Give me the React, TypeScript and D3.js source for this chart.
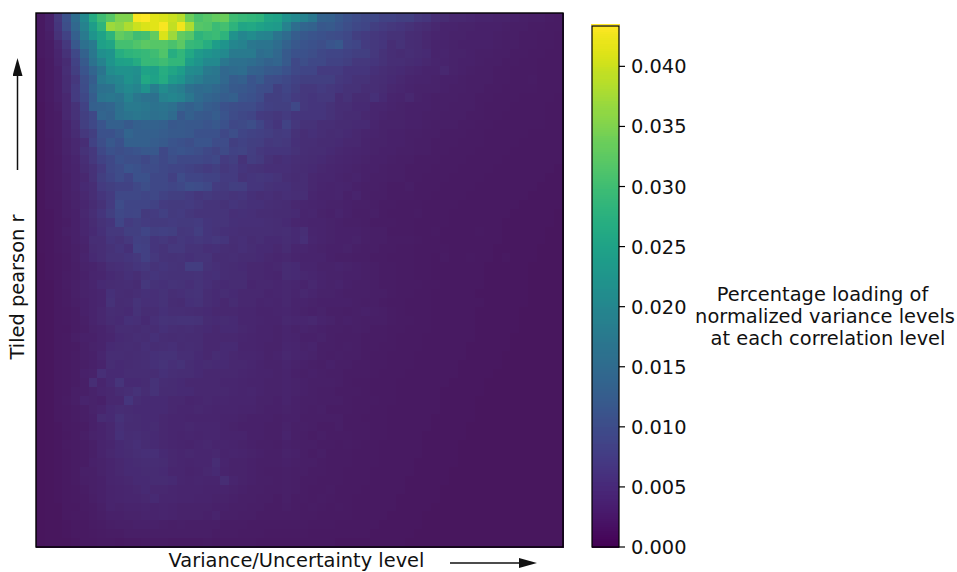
import React from "react";
import * as d3 from "d3";

// Estimated values, in units of 0.0001. One row per correlation level (top to bottom), 60 variance bins.
const heatRows: number[][] = [
[15,25,60,100,150,205,265,300,320,350,350,430,435,415,410,400,385,335,310,320,330,335,300,290,285,280,255,250,220,205,190,170,130,125,110,100,90,85,85,75,75,70,70,60,55,45,40,35,35,33,30,30,28,28,26,24,22,22,20,18],
[15,25,55,95,140,190,240,280,370,360,380,400,410,415,430,395,425,380,320,315,295,305,280,255,260,250,240,235,190,150,135,130,110,115,105,95,85,80,70,65,60,55,50,45,40,35,30,30,28,28,25,25,25,24,22,22,20,20,18,18],
[14,22,50,75,125,175,225,250,280,330,320,300,305,330,410,370,330,320,280,290,295,280,220,200,210,195,190,165,145,120,110,105,100,95,90,85,70,65,60,55,50,50,42,40,35,32,30,28,28,26,25,25,24,22,22,20,20,18,18,17],
[14,20,35,60,110,155,175,245,255,305,305,315,325,320,320,310,325,290,285,270,240,225,200,190,170,165,165,150,130,110,105,100,95,105,110,85,80,65,60,55,45,50,42,40,35,30,30,28,26,25,25,25,24,22,22,20,20,18,18,17],
[14,20,32,50,85,130,170,215,225,270,280,285,290,300,315,270,285,260,235,225,215,205,175,175,175,150,155,140,115,100,100,95,85,80,80,75,70,70,60,50,45,40,45,40,38,30,32,28,28,26,24,24,22,22,20,20,18,18,17,17],
[13,18,30,40,75,115,160,190,225,245,250,265,290,290,300,285,285,240,225,205,205,170,155,155,150,140,130,135,115,85,95,85,85,75,75,70,60,60,55,50,45,45,40,38,35,32,30,28,26,26,24,22,22,20,20,18,18,17,17,16],
[13,18,25,45,70,105,135,165,210,220,220,215,250,245,270,255,240,210,205,175,170,140,145,150,130,125,115,110,100,85,80,80,65,65,65,55,55,55,48,44,40,38,36,34,30,30,35,28,26,24,22,22,20,20,18,18,18,17,16,16],
[13,18,25,40,60,95,120,175,190,200,220,210,260,250,265,235,225,195,180,165,165,140,120,125,105,115,95,90,85,75,70,70,70,70,60,55,50,50,45,42,38,35,32,30,30,28,26,26,24,22,22,22,20,20,18,18,20,17,16,16],
[13,18,25,40,65,90,130,155,160,190,205,195,220,180,210,190,180,155,145,150,140,130,115,110,105,95,90,70,80,70,60,60,65,60,55,50,50,45,45,40,36,34,30,28,28,28,26,24,24,22,22,20,20,18,18,18,18,17,16,16],
[13,18,25,35,65,85,120,165,170,165,190,170,160,155,190,200,190,170,145,135,130,120,125,105,100,90,70,70,75,65,60,55,60,60,45,50,40,40,48,38,32,30,35,28,26,24,24,24,22,22,20,20,18,18,18,17,17,16,16,15],
[12,16,22,35,50,75,125,130,135,155,175,175,170,160,165,155,135,125,135,120,115,100,95,90,90,80,72,70,70,85,60,55,55,50,45,45,38,38,34,34,30,28,26,26,26,24,24,22,22,22,20,18,18,18,17,17,16,16,15,15],
[12,16,20,35,50,70,85,135,130,155,165,170,165,155,160,145,110,125,115,110,120,105,90,85,80,65,62,58,65,55,55,55,55,50,45,40,40,36,34,30,28,28,26,26,24,24,22,22,22,20,20,18,18,17,17,16,16,16,15,15],
[12,16,20,30,45,70,85,105,125,125,115,125,130,130,125,110,115,110,110,105,110,100,85,88,95,80,65,55,75,58,50,50,45,45,40,40,38,38,32,28,28,28,26,26,24,22,22,22,20,20,18,18,17,17,16,16,16,16,15,15],
[12,16,20,30,40,60,70,100,100,110,135,125,125,125,120,115,115,110,100,100,100,85,95,80,75,72,68,62,65,50,45,48,45,40,42,38,36,32,30,28,26,26,24,24,22,22,20,20,20,18,18,17,17,16,16,16,15,15,15,14],
[12,15,20,28,35,45,75,95,110,100,125,125,125,120,115,105,100,95,105,105,90,90,70,75,70,68,60,62,60,48,45,45,40,40,38,36,36,30,28,28,26,26,24,22,22,20,20,20,18,18,18,17,16,16,16,15,15,15,14,14],
[12,15,20,28,35,50,60,85,100,95,100,105,110,110,85,100,105,100,95,85,78,88,75,78,68,60,55,55,56,50,45,42,42,38,36,34,32,30,28,26,26,24,24,22,22,20,20,18,18,18,17,17,16,16,15,15,15,15,14,14],
[11,15,18,26,32,45,60,75,85,100,95,95,85,95,85,95,85,85,85,80,85,65,70,52,66,62,50,44,48,45,42,40,38,36,34,32,30,28,26,26,24,22,22,20,20,20,18,18,18,17,17,16,16,15,15,15,15,14,14,14],
[11,15,18,25,30,40,50,65,85,90,105,100,90,90,85,80,80,75,70,65,70,60,65,55,52,50,46,46,46,42,40,38,36,34,32,30,28,26,26,24,22,22,20,20,20,18,18,18,17,17,16,16,15,15,15,14,14,14,14,13],
[11,14,18,24,30,35,50,70,80,90,80,100,100,85,85,72,90,80,80,75,75,65,65,52,55,58,56,52,44,40,42,36,34,34,30,28,30,26,24,24,22,22,20,20,18,18,18,17,17,16,16,15,15,15,14,14,14,14,13,13],
[11,14,18,24,30,38,45,65,70,75,75,85,95,85,85,80,85,95,90,85,65,62,70,68,56,55,50,48,48,42,42,36,32,30,32,30,26,24,24,22,20,20,22,18,18,18,17,16,16,16,15,15,15,14,14,14,14,13,13,13],
[11,14,17,24,28,35,45,55,65,85,85,85,80,85,75,70,70,65,58,62,58,58,54,56,48,44,46,42,46,44,44,34,30,30,32,26,30,24,22,22,20,20,20,18,18,17,17,16,16,15,15,15,14,14,14,14,13,13,13,13],
[11,14,17,22,28,34,40,50,65,90,80,80,80,75,65,62,62,65,60,54,54,50,56,52,48,48,44,42,40,36,34,32,30,28,28,26,24,24,22,20,20,18,18,18,17,17,16,16,15,15,15,14,14,14,14,13,13,13,13,13],
[11,13,16,22,26,35,45,55,70,85,80,82,62,65,72,62,65,58,54,54,54,54,46,48,46,42,42,40,40,38,32,34,28,26,30,26,22,22,24,20,18,18,18,20,16,16,16,15,15,14,14,14,14,14,13,13,13,13,13,12],
[11,13,16,20,26,34,40,50,55,80,65,70,65,62,62,65,62,62,65,56,54,54,48,46,46,46,44,42,38,34,32,30,30,28,26,24,24,22,20,20,20,18,18,17,17,16,16,15,15,15,14,14,14,13,13,13,13,13,13,12],
[11,13,16,22,26,34,38,48,60,60,70,70,80,70,72,70,58,60,68,56,52,48,46,44,44,44,44,42,44,38,44,32,30,28,26,26,26,24,22,22,18,18,18,16,16,18,15,15,14,14,16,14,14,13,13,13,13,13,12,12],
[11,13,16,20,26,30,45,44,55,52,60,72,70,56,60,54,60,56,60,56,60,55,44,46,40,44,38,38,42,38,46,34,30,28,26,26,28,24,22,22,20,20,20,18,16,16,15,15,15,14,14,14,14,13,13,13,13,13,12,12],
[11,13,16,20,24,28,40,45,50,55,48,75,72,56,52,60,60,52,52,46,48,44,42,46,42,38,38,36,40,34,34,30,28,26,26,28,24,22,22,20,20,18,18,17,16,16,16,15,14,14,14,14,13,13,13,13,13,12,12,12],
[10,13,15,18,24,30,38,45,52,52,55,60,72,60,52,50,52,48,52,52,42,42,44,40,40,38,36,34,36,32,30,30,30,26,24,24,22,22,20,20,18,18,18,17,16,15,18,15,14,16,14,14,13,14,13,13,13,12,12,12],
[10,13,15,18,22,28,30,35,45,46,50,55,60,52,56,52,50,66,66,50,46,42,40,38,36,36,34,36,40,38,32,32,28,28,30,28,26,24,22,20,20,18,18,16,16,15,15,15,14,14,14,13,13,13,13,13,12,12,12,12],
[10,13,15,20,22,26,32,34,38,42,48,44,52,55,52,50,50,50,52,46,48,42,40,40,36,36,34,32,40,38,36,34,30,28,28,26,26,24,22,20,20,18,18,17,16,15,15,14,14,14,14,13,13,13,13,13,12,12,12,12],
[10,12,15,20,24,28,32,38,40,42,44,40,58,50,48,52,50,46,52,46,40,38,40,40,34,36,36,34,36,34,30,36,30,28,30,26,24,24,22,20,20,18,18,18,16,16,15,15,14,14,14,13,13,13,13,13,12,12,12,12],
[10,12,15,18,24,28,30,34,48,42,40,44,48,46,50,44,46,50,52,42,38,42,38,36,36,36,32,34,36,32,36,32,28,28,26,24,24,24,22,22,20,18,18,16,16,15,15,14,14,14,13,13,13,13,13,13,12,12,12,12],
[10,12,14,18,22,26,30,34,50,40,42,52,46,46,50,42,40,48,50,42,38,36,40,36,36,32,34,32,36,30,30,28,26,26,26,26,24,22,22,20,18,18,17,16,16,15,15,15,14,14,14,13,13,13,13,13,12,12,12,12],
[10,12,14,16,20,26,30,36,42,40,38,50,42,42,48,44,44,42,40,38,36,36,36,34,34,30,30,32,34,30,28,26,28,24,24,22,24,26,24,22,20,18,17,16,16,15,15,14,14,14,13,13,13,13,13,12,12,12,12,12],
[10,12,14,16,20,24,30,36,40,38,48,46,38,46,52,50,52,52,50,40,38,40,38,34,34,32,30,30,36,34,34,36,30,28,24,26,24,22,22,22,20,18,18,16,16,15,15,14,14,14,13,13,13,13,13,12,12,12,12,12],
[10,12,14,15,20,22,28,30,36,42,42,40,44,42,48,44,42,44,40,38,36,38,38,36,34,30,30,28,32,28,30,28,26,24,24,22,24,22,20,20,18,18,16,16,16,15,15,14,14,14,13,13,13,13,13,12,12,12,12,12],
[10,12,14,16,22,26,26,30,34,38,40,44,42,48,42,40,42,40,40,36,36,36,36,34,32,30,30,28,32,30,26,26,28,24,22,22,22,20,20,20,18,17,16,16,15,15,15,14,14,14,13,13,13,13,12,12,12,12,12,12],
[10,12,14,16,18,24,28,30,38,40,42,40,46,42,44,46,40,42,40,36,36,38,38,32,32,30,28,28,34,32,28,30,24,24,22,24,22,20,20,18,18,16,16,16,15,15,14,14,14,13,13,13,13,13,12,12,12,12,12,12],
[10,12,14,16,20,24,26,34,42,42,40,42,44,48,50,50,44,44,38,36,40,38,36,34,34,32,28,30,36,32,30,28,24,22,24,22,22,20,18,18,17,16,16,15,15,15,14,14,14,13,13,13,13,12,12,12,12,12,12,12],
[10,12,14,16,20,22,26,30,42,38,40,42,44,48,52,46,50,42,38,40,38,38,36,36,34,30,28,28,32,28,26,24,22,26,22,22,20,20,18,18,16,16,16,15,15,14,14,14,13,13,13,13,13,12,12,12,12,12,12,12],
[10,12,14,16,20,26,28,46,38,38,42,42,42,42,48,44,42,42,38,36,36,36,36,34,32,30,30,28,30,26,24,26,24,22,22,20,20,20,18,17,16,16,15,15,15,14,14,14,13,13,13,13,12,12,12,12,12,12,12,12],
[10,12,14,16,20,24,44,32,38,54,38,38,40,50,42,40,38,36,36,36,36,34,34,32,30,30,28,28,30,28,26,24,24,24,22,20,18,18,17,16,16,15,15,15,14,14,14,13,13,13,13,12,12,12,12,12,12,12,12,12],
[10,12,14,16,22,24,28,34,36,40,44,50,42,50,40,40,38,38,36,36,36,36,34,32,34,30,28,28,30,28,26,24,22,22,20,20,20,18,17,16,16,15,15,14,14,14,13,13,13,13,13,12,12,12,12,12,12,12,12,12],
[10,12,14,18,22,30,28,26,36,36,56,42,38,38,38,36,36,32,34,36,34,34,32,32,32,28,28,26,30,26,24,24,22,22,22,20,18,18,18,16,16,15,15,14,14,14,13,13,13,13,12,12,12,12,12,12,12,12,12,12],
[10,12,14,16,20,22,28,32,38,42,40,38,38,38,38,36,34,34,36,34,32,32,32,30,30,28,26,26,28,26,24,22,24,20,20,20,18,18,17,16,15,15,14,14,14,14,13,13,13,13,12,12,12,12,12,12,12,12,12,12],
[10,12,14,16,20,22,26,40,38,50,42,40,38,38,36,34,34,32,32,32,32,30,30,28,26,26,26,24,26,26,22,22,22,22,22,18,18,16,16,16,15,15,14,14,14,13,13,13,13,13,12,12,12,12,12,12,12,12,12,12],
[10,12,13,16,18,20,26,30,36,46,40,40,38,40,36,34,34,36,34,34,34,30,28,26,26,26,24,24,28,24,24,22,20,20,22,18,18,18,17,16,15,15,14,14,14,13,13,13,13,12,12,12,12,12,12,12,12,12,12,12],
[10,12,13,15,18,22,28,30,36,48,42,44,40,38,36,34,32,34,32,34,34,30,30,30,26,26,24,24,30,24,22,20,22,20,20,20,18,18,16,16,15,15,14,14,13,13,13,13,13,12,12,12,12,12,12,12,12,12,12,12],
[10,12,13,16,18,20,24,30,34,38,42,46,40,38,36,34,32,30,34,36,32,32,30,28,26,24,24,22,26,24,22,22,20,20,18,20,18,16,16,15,15,14,14,14,13,13,13,13,12,12,12,12,12,12,12,12,12,12,12,12],
[10,12,13,15,18,20,24,30,36,38,40,44,46,46,38,36,34,36,34,34,36,30,32,30,28,26,24,24,28,26,22,20,22,18,18,18,17,16,16,15,15,14,14,14,13,13,13,13,12,12,12,12,12,12,12,12,12,12,12,12],
[10,12,13,15,18,20,26,28,32,36,38,40,42,42,40,36,34,32,34,34,42,32,28,28,26,24,24,24,26,24,22,22,20,18,18,18,16,16,16,15,14,14,14,13,13,13,13,13,12,12,12,12,12,12,12,12,12,12,12,12],
[10,12,13,15,18,24,24,28,32,36,38,38,40,40,38,34,34,30,32,36,38,30,28,28,26,24,22,22,24,22,22,20,20,18,18,17,16,16,15,15,14,14,14,13,13,13,13,12,12,12,12,12,12,12,12,12,12,12,12,12],
[10,12,13,15,18,22,24,26,32,34,36,38,38,40,40,38,34,32,34,32,32,42,32,28,26,24,24,22,24,22,20,20,18,18,18,16,16,16,15,14,14,14,13,13,13,13,13,12,12,12,12,12,12,12,12,12,12,12,12,12],
[10,11,13,15,17,20,24,26,30,32,34,36,38,36,36,34,32,32,32,30,30,30,28,26,24,24,22,22,24,22,20,18,18,20,17,16,16,15,15,14,14,14,13,13,13,13,12,12,12,12,12,12,12,12,12,12,12,12,12,12],
[10,11,13,14,17,18,22,26,30,32,34,34,36,38,34,34,32,32,30,30,28,28,26,24,24,22,22,20,24,20,20,18,20,18,16,16,15,15,15,14,14,13,13,13,13,13,12,12,12,12,12,12,12,12,12,12,12,12,12,12],
[10,11,12,14,15,18,20,24,30,28,30,30,32,30,32,30,28,28,28,28,26,26,24,24,22,22,20,20,22,20,18,20,18,16,18,16,15,15,14,14,14,13,13,13,13,12,12,12,12,12,12,12,12,12,12,12,12,12,12,12],
[10,11,12,14,16,16,20,22,26,26,28,28,30,30,32,30,28,28,28,26,30,24,24,22,22,20,20,20,20,20,18,18,17,16,16,16,15,14,14,14,13,13,13,13,12,12,12,12,12,12,12,12,12,12,12,12,12,12,12,12],
[10,11,12,13,15,15,18,20,22,24,24,26,26,26,24,22,24,22,22,22,22,20,20,20,18,18,18,18,18,18,18,16,16,16,15,15,14,14,14,13,13,13,13,13,12,12,12,12,12,12,12,12,12,12,12,12,12,12,12,12],
[10,11,12,13,14,15,16,18,20,20,22,22,22,22,22,22,22,22,22,22,20,20,20,18,18,18,17,16,16,16,16,15,15,15,14,14,14,14,13,13,13,13,13,12,12,12,12,12,12,12,12,12,12,12,12,12,12,12,12,12],
[10,11,12,12,13,14,15,16,16,15,16,17,18,18,18,16,17,17,17,18,17,17,16,16,16,15,15,15,14,14,14,14,14,14,13,13,13,13,13,13,13,13,12,12,12,12,12,12,12,12,12,12,12,12,12,12,12,12,12,12],
];

const colorbarTicks = [0, 0.005, 0.01, 0.015, 0.02, 0.025, 0.03, 0.035, 0.04];
const colorbarMax = 0.0434;
const colorbarLabel = ["Percentage loading of", "normalized variance levels", "at each correlation level"];
const xLabel = "Variance/Uncertainty level";
const yLabel = "Tiled pearson r";

const FONT = "DejaVu Sans";
const INK = "#111";
const FS = 19.4;

const plot = { left: 36, right: 563, top: 13, bottom: 547 };
const bar = { left: 592, right: 619, top: 25.5, bottom: 547 };

export default function App() {
  const nRows = heatRows.length;
  const nCols = heatRows[0].length;
  const x = d3.scaleBand<number>().domain(d3.range(nCols)).range([plot.left, plot.right]);
  const y = d3.scaleBand<number>().domain(d3.range(nRows)).range([plot.top, plot.bottom]);
  const color = d3.scaleSequential(d3.interpolateViridis).domain([0, colorbarMax]);
  const barY = d3.scaleLinear().domain([0, colorbarMax]).range([bar.bottom, bar.top]);
  const barSteps = d3.range(0, 256).map((i) => (i / 256) * colorbarMax);

  // The reference's image is a little lifted and less saturated in its dark end than its colour bar.
  const cellColor = (u: number) => {
    const lifted = u + 16 * (1 - Math.min(1, u / 200));
    const t = lifted / 435;
    const c = d3.rgb(color(lifted / 10000));
    if (t < 0.25) c.b = c.b - 14 * (1 - t / 0.25);
    return c.formatHex();
  };

  return (
    <svg
      width={957}
      height={572}
      style={{ position: "absolute", left: 0, top: 0, background: "#fff" }}
      fontFamily={FONT}
    >
      <defs>
        <marker id="head" viewBox="0 0 18 10" refX="0" refY="5" markerWidth="18" markerHeight="10" markerUnits="userSpaceOnUse" orient="auto">
          <path d="M0,0 L18,5 L0,10 Z" fill={INK} />
        </marker>
      </defs>

      <g shapeRendering="crispEdges">
        {heatRows.map((row, r) =>
          row.map((v, c) => (
            <rect
              key={`${r}-${c}`}
              x={x(c)}
              y={y(r)}
              width={x.bandwidth() + 0.5}
              height={y.bandwidth() + 0.5}
              fill={cellColor(v)}
            />
          ))
        )}
      </g>
      <rect x={plot.left} y={plot.top} width={plot.right - plot.left} height={plot.bottom - plot.top} fill="none" stroke="#000" strokeWidth={1.4} />

      <g shapeRendering="crispEdges">
        {barSteps.map((v, i) => (
          <rect
            key={i}
            x={bar.left}
            y={barY(v + colorbarMax / 256)}
            width={bar.right - bar.left}
            height={barY(v) - barY(v + colorbarMax / 256) + 0.6}
            fill={color(v)}
          />
        ))}
      </g>
      <rect x={bar.left - 1} y={bar.top - 1.5} width={bar.right - bar.left + 2} height={1.5} fill="#fde725" />
      <rect x={bar.left} y={bar.top + 0.5} width={bar.right - bar.left} height={bar.bottom - bar.top - 0.5} fill="none" stroke="#000" strokeWidth={1.2} />
      {colorbarTicks.map((t) => (
        <g key={t} transform={`translate(0,${barY(t)})`}>
          <line x1={bar.right} x2={bar.right + 6} stroke="#000" strokeWidth={1.2} />
          <text x={631} y={0} dy="0.36em" fontSize={FS} fill={INK}>
            {d3.format(".3f")(t)}
          </text>
        </g>
      ))}

      <g fontSize={FS} fill={INK} textAnchor="middle">
        {colorbarLabel.map((line, i) => (
          <text key={line} x={i === 0 ? 822.5 : i === 1 ? 825 : 828} y={301 + i * 22}>
            {line}
          </text>
        ))}
      </g>

      <text x={296.5} y={567} fontSize={FS} fill={INK} textAnchor="middle">
        {xLabel}
      </text>
      <text transform="translate(23.5,287) rotate(-90)" fontSize={FS} fill={INK} textAnchor="middle">
        {yLabel}
      </text>

      <line x1={450} y1={563} x2={519} y2={563} stroke={INK} strokeWidth={1.5} markerEnd="url(#head)" />
      <line x1={17.5} y1={170} x2={17.5} y2={76} stroke={INK} strokeWidth={1.5} markerEnd="url(#head)" />
    </svg>
  );
}
